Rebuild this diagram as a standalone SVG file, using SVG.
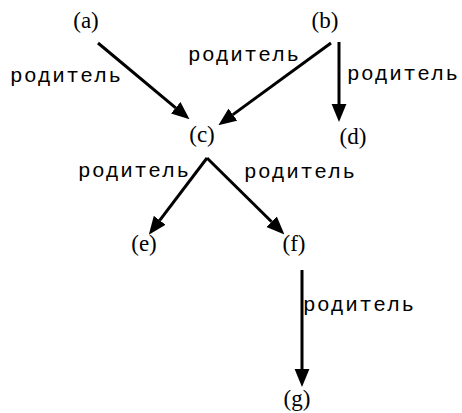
<svg xmlns="http://www.w3.org/2000/svg" width="462" height="413" viewBox="0 0 462 413">
<defs>
<marker id="ah" markerUnits="userSpaceOnUse" markerWidth="18" markerHeight="16" refX="0" refY="7" orient="auto" viewBox="0 0 17 14">
<path d="M0,0 L17,7 L0,14 z" fill="#000"/>
</marker>
</defs>
<rect width="462" height="413" fill="#fff"/>
<g id="connectors" stroke="#000" stroke-width="3" fill="none">
<line x1="98" y1="43" x2="175.7" y2="107.8" marker-end="url(#ah)"/>
<line x1="331" y1="43" x2="232.9" y2="114.6" marker-end="url(#ah)"/>
<line x1="339" y1="42" x2="339" y2="104" marker-end="url(#ah)"/>
<line x1="207" y1="158" x2="159.7" y2="220.3" marker-end="url(#ah)"/>
<line x1="207" y1="158" x2="271.6" y2="221.8" marker-end="url(#ah)"/>
<line x1="302" y1="270" x2="302" y2="369" marker-end="url(#ah)"/>
</g>
<g id="labels" font-family="Liberation Mono, Courier New, monospace" font-size="21" fill="#000">
<text x="10" y="82" textLength="111" lengthAdjust="spacing">родитель</text>
<text x="188" y="61" textLength="111" lengthAdjust="spacing">родитель</text>
<text x="347" y="80" textLength="111" lengthAdjust="spacing">родитель</text>
<text x="78" y="177" textLength="111" lengthAdjust="spacing">родитель</text>
<text x="244" y="178" textLength="111" lengthAdjust="spacing">родитель</text>
<text x="303" y="311" textLength="111" lengthAdjust="spacing">родитель</text>
</g>
<g font-family="Liberation Serif, Times New Roman, serif" font-size="23" fill="#000" text-anchor="middle">
<g id="node-a"><text x="86" y="28">(a)</text></g>
<g id="node-b"><text x="325" y="28">(b)</text></g>
<g id="node-c"><text x="202" y="142">(c)</text></g>
<g id="node-d"><text x="353" y="144">(d)</text></g>
<g id="node-e"><text x="144" y="251">(e)</text></g>
<g id="node-f"><text x="294" y="251">(f)</text></g>
<g id="node-g"><text x="297" y="406">(g)</text></g>
</g>
</svg>
